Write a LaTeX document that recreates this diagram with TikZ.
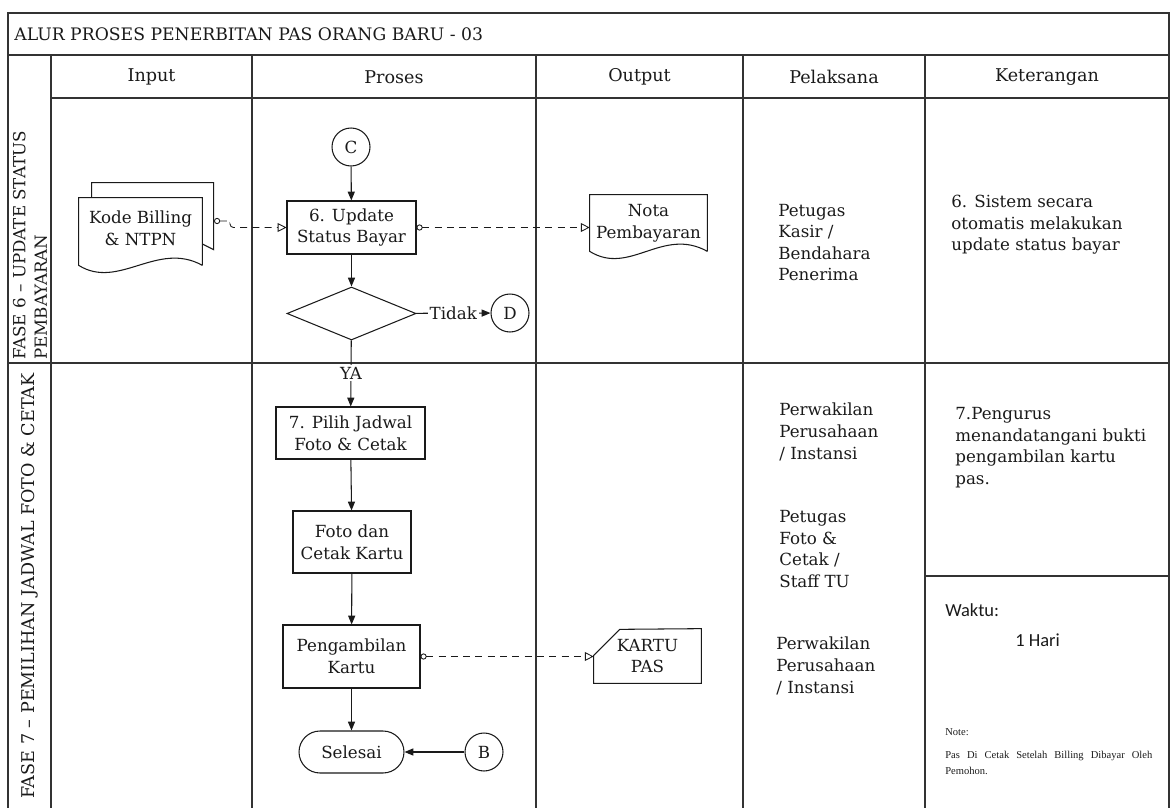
\documentclass[tikz,border=0pt]{standalone}
\usepackage{fontspec}
\setmainfont{DejaVu Serif}
\newfontfamily\calibfont{Carlito}
\newfontfamily\timesfont{Liberation Serif}
\usetikzlibrary{positioning,shapes.geometric,arrows.meta,calc}
\definecolor{ink}  {HTML}{1A1A1A}
\definecolor{rule} {HTML}{333333}
\tikzset{
  >=Stealth,
  every node/.style={font=\fontsize{9.5}{12.3}\selectfont, text=ink},
  % --- nodes
  proc/.style  = {draw=ink, line width=0.6pt, fill=white, align=center, inner sep=2pt},
  conn/.style  = {circle, draw=ink, line width=0.6pt, fill=white, minimum size=0.76cm, inner sep=0pt},
  decis/.style = {diamond, draw=ink, line width=0.6pt, minimum width=2.58cm,
                  minimum height=1.06cm, inner sep=0pt},
  term/.style  = {proc, rounded corners=0.42cm},
  doc/.style   = {align=center, inner sep=0pt},
  txt/.style   = {align=left, anchor=west, inner sep=0pt},
  hdr/.style   = {font=\fontsize{10}{12}\selectfont},
  outl/.style  = {draw=ink, line width=0.6pt},
  % --- edges
  e/.style     = {-{Triangle[length=5pt,width=4pt]}, line width=0.6pt, draw=ink},
  eline/.style = {line width=0.6pt, draw=ink},
  dflow/.style = {{Circle[open,length=3.5pt,width=3.5pt]}-{Triangle[open,length=5pt,width=5pt]},
                  dash pattern=on 4pt off 3pt, line width=0.5pt, draw=ink},
  grid/.style  = {line width=0.8pt, draw=rule},
}

\begin{document}
\begin{tikzpicture}[x=0.02cm, y=-0.02cm]
  \useasboundingbox (0,0) rectangle (1171,808);

  % table
  \draw[grid] (8,808) -- (8,13) -- (1169,13) -- (1169,808);
  \draw[grid] (8,55) -- (1169,55);
  \draw[grid] (51,98) -- (1169,98);
  \draw[grid] (8,363) -- (1169,363);
  \draw[grid] (925,576) -- (1169,576);
  \foreach \x in {51,252,536,743,925} \draw[grid] (\x,55) -- (\x,808);

  \node[anchor=west, inner sep=0pt, font=\fontsize{9.8}{12}\selectfont] (title) at (14,34)
    {ALUR PROSES PENERBITAN PAS ORANG BARU - 03};
  \node[hdr] (hin)  at (151.5,77) {Input};
  \node[hdr] (hpro) at (394,77)   {Proses};
  \node[hdr] (hout) at (639.5,77) {Output};
  \node[hdr] (hpel) at (834,77)   {Pelaksana};
  \node[hdr] (hket) at (1047,77)  {Keterangan};

  % phases
  \node[rotate=90, anchor=west, align=left, inner sep=0pt] (f6) at (30,360)
    {FASE 6 – UPDATE STATUS\\PEMBAYARAN};
  \node[rotate=90, font=\fontsize{10}{12}\selectfont] (f7) at (30,586)
    {FASE 7 – PEMILIHAN JADWAL FOTO \& CETAK};

  % fase 6
  \node[conn] (c) at (351,147) {C};
  \node[proc, minimum width=2.58cm, minimum height=1.06cm] (upd) at (351.5,227.5) {6. Update\\Status Bayar};
  \node[decis] (dec) at (351.5,313.5) {};
  \node[conn] (d) at (510,313) {D};

  \node[doc, minimum width=2.46cm, minimum height=1.34cm] (kb) at (140.5,231.5) {};
  \draw[outl] (kb.north west) ++(13,0) -- ++(0,-15) -- ++(122,0) -- ++(0,67) -- ++(-12,-6);
  \draw[outl, fill=white] (kb.south east) -- (kb.north east) -- (kb.north west) -- (kb.south west)
    .. controls +(40,25) and +(-45,-25) .. (kb.south east);
  \node[doc] (kbtxt) at (140.5,228) {Kode Billing\\\& NTPN};

  \node[doc, minimum width=2.34cm, minimum height=1.12cm] (nota) at (648.5,223) {Nota\\Pembayaran};
  \draw[outl] (nota.south east) -- (nota.north east) -- (nota.north west) -- (nota.south west)
    .. controls +(40,25) and +(-45,-25) .. (nota.south east);

  \coordinate (kbout) at (214,221);
  \draw[dflow, rounded corners=2pt] (kbout) -- ++(16,0) |- (upd.west);
  \draw[dflow] (upd.east) -- (upd.east -| nota.west);
  \draw[e] (c) -- (upd);
  \draw[e] (upd) -- (dec);
  \draw[e] (dec) -- node[fill=white, inner sep=1pt] (tidak) {Tidak} (d);

  % fase 7
  \node[fill=white, inner sep=1pt] (ya) at (351,373) {YA};
  \node[proc, minimum width=2.98cm, minimum height=1.04cm] (pil)  at (350.5,433) {7. Pilih Jadwal\\Foto \& Cetak};
  \node[proc, minimum width=2.36cm, minimum height=1.24cm] (foto) at (352,542)   {Foto dan\\Cetak Kartu};
  \node[proc, minimum width=2.74cm, minimum height=1.26cm] (amb)  at (351.5,656.5) {Pengambilan\\Kartu};
  \node[term, minimum width=2.1cm, minimum height=0.84cm]  (sel)  at (351.5,752) {Selesai};
  \node[conn] (b) at (484,752) {B};

  \node[doc, minimum width=2.14cm, minimum height=1.08cm] (kartu) at (647.5,656) {KARTU\\PAS};
  \draw[outl] (kartu.south west) -- ++(0,-28) -- ++(26,-26) -- (kartu.north east)
    -- (kartu.south east) -- cycle;

  \draw[eline] (dec) -- (ya);
  \draw[e] (ya) -- (pil);
  \draw[e] (pil) -- (foto);
  \draw[e] (foto) -- (amb);
  \draw[e] (amb) -- (sel);
  \draw[e] (b) -- (sel);
  \draw[dflow] (amb.east) -- (amb.east -| kartu.west);

  % pelaksana / keterangan
  \node[txt] (pel6)  at (778,242.5) {Petugas\\Kasir /\\Bendahara\\Penerima};
  \node[txt] (ket6)  at (951,225)   {6. Sistem secara\\otomatis melakukan\\update status bayar};
  \node[txt] (pel7a) at (779,432)   {Perwakilan\\Perusahaan\\/ Instansi};
  \node[txt] (pel7b) at (779,549)   {Petugas\\Foto \&\\Cetak /\\Staff TU};
  \node[txt] (pel7c) at (776,666)   {Perwakilan\\Perusahaan\\/ Instansi};
  \node[txt] (ket7)  at (955,447.5) {7.Pengurus\\menandatangani bukti\\pengambilan kartu\\pas.};

  \node[txt, font=\calibfont\fontsize{10.5}{12}\selectfont] (waktu) at (945,610) {Waktu:};
  \node[txt, font=\calibfont\fontsize{10.5}{12}\selectfont] (hari)  at (1015,640) {1 Hari};
  \node[txt, font=\timesfont\fontsize{6}{9}\selectfont] (notehd) at (945,732) {Note:};
  \node[anchor=north west, inner sep=0pt, text width=4.14cm, align=justify,
        font=\timesfont\fontsize{6}{9}\selectfont] (notetx) at (945,751)
    {Pas Di Cetak Setelah Billing Dibayar Oleh\linebreak Pemohon.};
\end{tikzpicture}
\end{document}
